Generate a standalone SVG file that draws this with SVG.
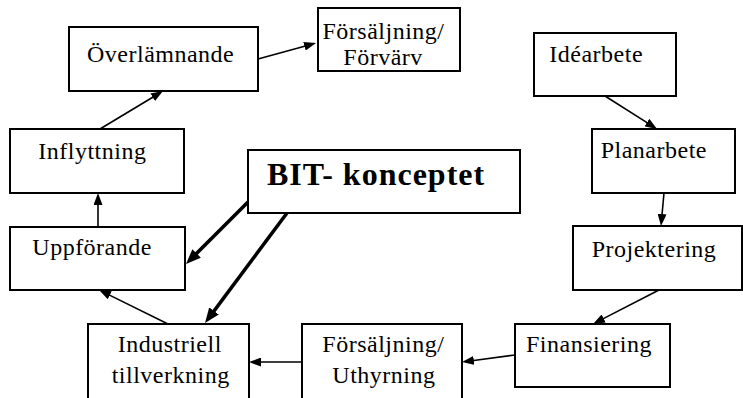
<svg xmlns="http://www.w3.org/2000/svg" width="743" height="398" viewBox="0 0 743 398">
  <style>
    .box { fill: #fff; stroke: #000; stroke-width: 2; }
    .lbl { font-family: "Liberation Serif", serif; font-size: 24px; letter-spacing: 0.5px; fill: #000; }
    .big { font-family: "Liberation Serif", serif; font-size: 32px; font-weight: bold; letter-spacing: 1px; fill: #000; }
    .thin { stroke: #000; stroke-width: 1.6; fill: none; marker-end: url(#head); }
    .thick { stroke: #000; stroke-width: 3.5; fill: none; marker-end: url(#headBig); }
  </style>
  <defs>
    <marker id="head" markerUnits="userSpaceOnUse" markerWidth="12" markerHeight="9" refX="2" refY="4.5" orient="auto">
      <path d="M0,0 L12,4.5 L0,9 z" fill="#000"/>
    </marker>
    <marker id="headBig" markerUnits="userSpaceOnUse" markerWidth="15" markerHeight="12" refX="2" refY="6" orient="auto">
      <path d="M0,0 L15,6 L0,12 z" fill="#000"/>
    </marker>
  </defs>
  <rect width="743" height="398" fill="#fff"/>

  <g id="connectors">
    <line class="thin" x1="258" y1="59" x2="306.4" y2="45.7"/>
    <line class="thin" x1="100" y1="129" x2="154.4" y2="96.2"/>
    <line class="thin" x1="98" y1="227" x2="98" y2="203"/>
    <line class="thin" x1="168" y1="324" x2="108" y2="294.4"/>
    <line class="thin" x1="302" y1="362" x2="259" y2="362"/>
    <line class="thin" x1="515" y1="355" x2="471.9" y2="360.7"/>
    <line class="thin" x1="659" y1="290" x2="601.9" y2="319.4"/>
    <line class="thin" x1="664" y1="193" x2="661.9" y2="216"/>
    <line class="thin" x1="605" y1="96" x2="648.6" y2="123.6"/>
    <line class="thick" x1="248" y1="202" x2="195.2" y2="254.8"/>
    <line class="thick" x1="287" y1="213" x2="212.8" y2="312.6"/>
  </g>

  <g id="overlamnande">
    <rect class="box" x="69" y="27" width="189" height="64"/>
    <text class="lbl" x="87" y="62" letter-spacing="-0.2">Överlämnande</text>
  </g>
  <g id="forsaljning-forvarv">
    <rect class="box" x="318" y="8" width="142" height="63"/>
    <text class="lbl" x="322.5" y="39">Försäljning/</text>
    <text class="lbl" x="343.3" y="65">Förvärv</text>
  </g>
  <g id="inflyttning">
    <rect class="box" x="10" y="129" width="174" height="64"/>
    <text class="lbl" x="38.3" y="159">Inflyttning</text>
  </g>
  <g id="bit-konceptet">
    <rect class="box" x="248" y="150" width="272" height="63"/>
    <text class="big" x="267" y="185">BIT- konceptet</text>
  </g>
  <g id="idearbete">
    <rect class="box" x="534" y="33" width="142" height="63"/>
    <text class="lbl" x="549.3" y="61.7">Idéarbete</text>
  </g>
  <g id="planarbete">
    <rect class="box" x="592" y="129" width="143" height="64"/>
    <text class="lbl" x="600.7" y="158.3">Planarbete</text>
  </g>
  <g id="uppforande">
    <rect class="box" x="10" y="227" width="175" height="63"/>
    <text class="lbl" x="32.3" y="255">Uppförande</text>
  </g>
  <g id="projektering">
    <rect class="box" x="573" y="226" width="169" height="64"/>
    <text class="lbl" x="591.7" y="256.7">Projektering</text>
  </g>
  <g id="industriell-tillverkning">
    <rect class="box" x="88" y="324" width="161" height="100"/>
    <text class="lbl" x="117.7" y="351.7">Industriell</text>
    <text class="lbl" x="111.7" y="382.7">tillverkning</text>
  </g>
  <g id="forsaljning-uthyrning">
    <rect class="box" x="302" y="324" width="160" height="100"/>
    <text class="lbl" x="322.3" y="351.7">Försäljning/</text>
    <text class="lbl" x="332.3" y="382.7">Uthyrning</text>
  </g>
  <g id="finansiering">
    <rect class="box" x="515" y="324" width="155" height="63"/>
    <text class="lbl" x="526" y="351.7">Finansiering</text>
  </g>
</svg>
